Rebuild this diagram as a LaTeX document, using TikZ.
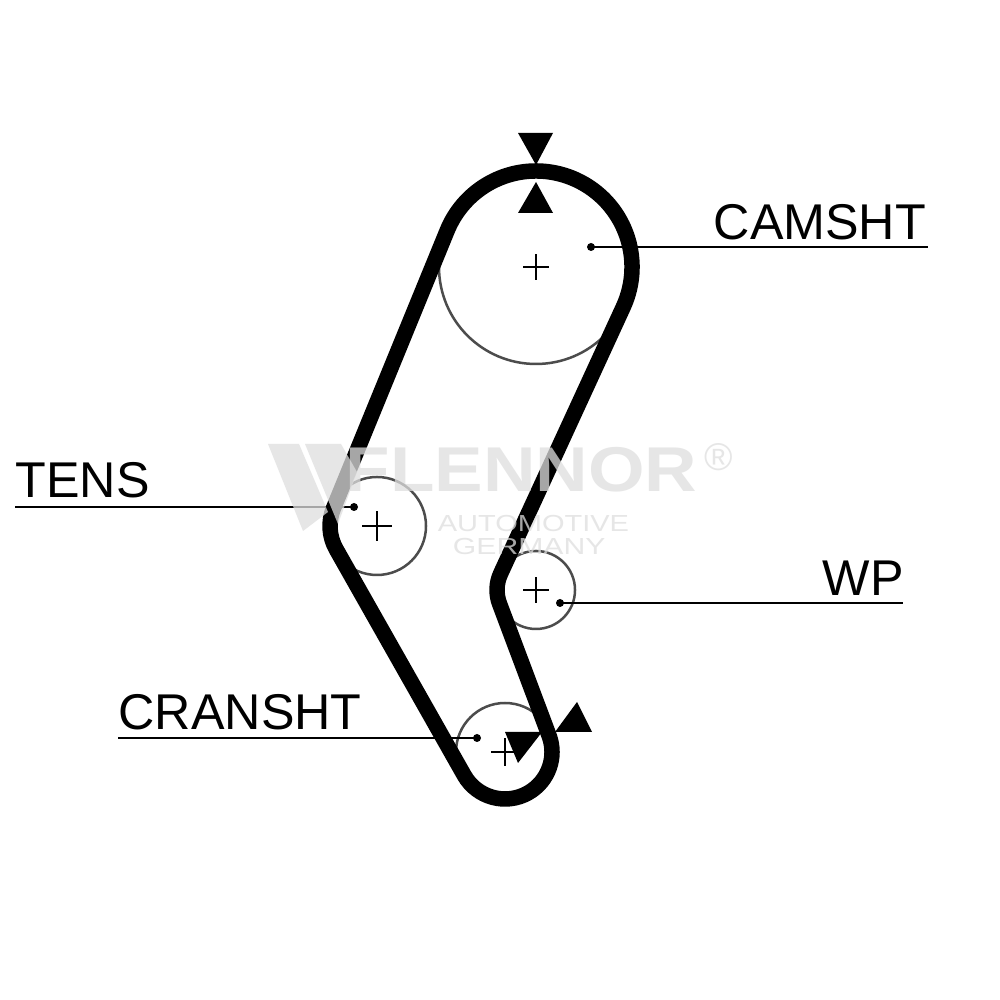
\documentclass[tikz,border=0pt]{standalone}
\usepackage{fontspec}
\setmainfont{Liberation Sans}
\usetikzlibrary{calc}

\definecolor{markgray}{gray}{0.87}
\tikzset{
  belt/.style={line width=1.55mm,line join=round},
  thin circle/.style={draw=black!70,line width=0.25mm},
  leader/.style={line width=0.22mm},
  centre/.style={line width=0.25mm},
  wheelname/.style={anchor=base west,inner sep=0pt,font=\fontsize{14.3}{16}\selectfont},
  logomark/.style={fill=markgray,opacity=0.75,draw=none},
  logotext/.style={text=markgray,text opacity=0.75,inner sep=0pt,anchor=base west}
}
\newcommand{\pluss}[2]{\draw[centre] ($(#1)+(-#2,0)$) -- ($(#1)+(#2,0)$) ($(#1)+(0,-#2)$) -- ($(#1)+(0,#2)$);}

\begin{document}
\begin{tikzpicture}
  \useasboundingbox (0,0) rectangle (10,10);
  \fill[white] (0,0) rectangle (10,10);

  % Centres of the wheels
  \coordinate (cam) at (5.36,7.33);
  \coordinate (tens) at (3.77,4.74);
  \coordinate (wp) at (5.36,4.10);
  \coordinate (crank) at (5.05,2.48);

  % Wheels
  \draw[thin circle] (cam) circle (0.97);
  \draw[thin circle] (tens) circle (0.49);
  \draw[thin circle] (wp) circle (0.39);
  \draw[thin circle] (crank) circle (0.49);
  \pluss{cam}{0.13}
  \pluss{tens}{0.15}
  \pluss{wp}{0.13}
  \pluss{crank}{0.14}

  % Leaders and names
  \node[wheelname] (camname) at (7.13,7.60) {CAMSHT};
  \node[wheelname] (tensname) at (0.15,5.02) {TENS};
  \node[wheelname] (wpname) at (8.22,4.04) {WP};
  \node[wheelname] (crankname) at (1.18,2.70) {CRANSHT};
  \coordinate (camend) at (9.28,7.53);
  \coordinate (camdot) at (5.91,7.53);
  \coordinate (tensend) at (0.15,4.93);
  \coordinate (tensdot) at (3.54,4.93);
  \coordinate (wpend) at (9.03,3.97);
  \coordinate (wpdot) at (5.60,3.97);
  \coordinate (crankend) at (1.18,2.62);
  \coordinate (crankdot) at (4.77,2.62);
  \foreach \p/\q in {camdot/camend,tensdot/tensend,wpdot/wpend,crankdot/crankend}{
    \draw[leader] (\p) -- (\q);
    \fill (\p) circle (0.04);
  }

  % Belt
  \draw[belt]
    ($(cam)+(-24.7:0.96)$) arc[start angle=-24.7,end angle=157.7,radius=0.96]
    -- ($(tens)+(157.7:0.47)$) arc[start angle=157.7,end angle=209.6,radius=0.47]
    -- ($(crank)+(209.6:0.47)$) arc[start angle=209.6,end angle=380.6,radius=0.47]
    -- ($(wp)+(200.6:0.39)$) arc[start angle=200.6,end angle=155.3,radius=0.39]
    -- cycle;

  % Timing marks
  \fill (5.18,8.67) -- (5.53,8.67) -- (5.36,8.35) -- cycle;
  \fill (5.18,7.87) -- (5.53,7.87) -- (5.36,8.18) -- cycle;
  \fill (5.55,2.68) -- (5.92,2.68) -- (5.77,2.98) -- cycle;
  \fill (5.05,2.68) -- (5.42,2.68) -- (5.18,2.37) -- cycle;

  % Watermark
  \fill[logomark] (2.68,5.56) -- (2.99,5.56) -- (3.28,4.88) -- (3.03,4.69) -- cycle;
  \fill[logomark] (3.05,5.56) -- (3.41,5.56) -- (3.57,5.28) -- (3.38,4.76) -- cycle;
  \node[logotext,font=\bfseries\fontsize{18}{20}\selectfont,transform shape,xscale=1.15] (markname) at (3.45,5.08) {FLENNOR};
  \node[logotext,font=\fontsize{11}{12}\selectfont] (markreg) at (7.04,5.29) {®};
  \node[logotext,font=\fontsize{6.6}{8}\selectfont,transform shape,xscale=1.25] (markline) at (4.37,4.68) {AUTOMOTIVE};
  \node[logotext,font=\fontsize{6.6}{8}\selectfont,transform shape,xscale=1.3] (markland) at (4.52,4.45) {GERMANY};
\end{tikzpicture}
\end{document}
